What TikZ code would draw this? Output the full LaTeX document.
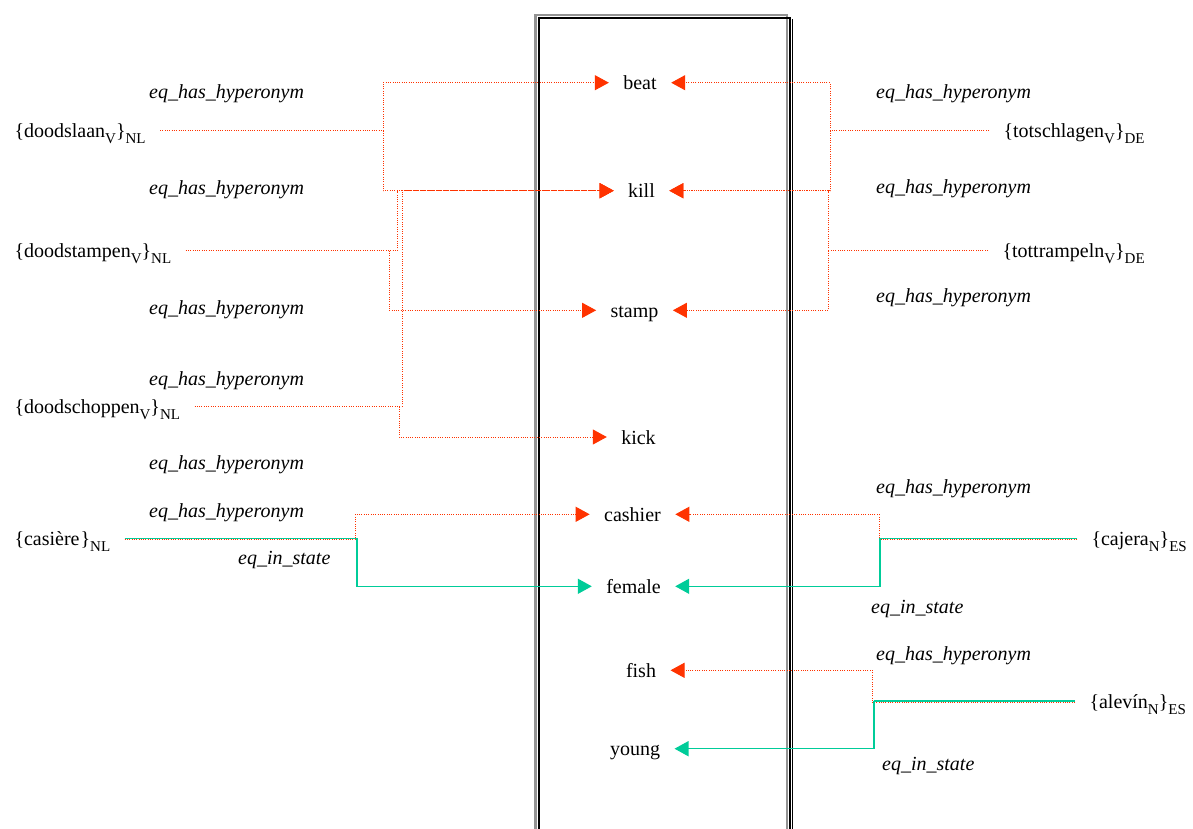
\documentclass[tikz,border=0pt]{standalone}
\usepackage{fontspec}
\setmainfont{Liberation Serif}
\usetikzlibrary{arrows.meta}
\definecolor{hypred}{RGB}{255,51,0}
\definecolor{stgreen}{RGB}{0,204,153}
\newcommand{\lsub}[1]{\raisebox{-6pt}{\fontsize{15}{15}\selectfont #1}}
\begin{document}
\begin{tikzpicture}[x=1pt,y=-1pt,
  every node/.style={font=\fontsize{20}{24}\selectfont},
  termbox/.style={inner xsep=14.5pt, inner ysep=0pt, text height=14pt, text depth=0pt, outer sep=0pt},
  synset/.style={termbox, anchor=west},
  rel/.style={inner sep=0pt, anchor=base west, font=\fontsize{20}{24}\selectfont\itshape},
  hyp/.style={color=hypred, line width=1pt, dash pattern=on 1pt off 1.3pt},
  hypa/.style={hyp, -{Triangle[length=14pt,width=15pt]}},
  ste/.style={color=stgreen, line width=1.5pt},
  stea/.style={ste, -{Triangle[length=14pt,width=15pt]}}
]
\useasboundingbox (0,0) rectangle (1193,828);

% central frame
\draw[gray!85, line width=2.4pt] (535.5,835) -- (535.5,15) -- (787,15) -- (787,835);
\draw[black, line width=1.5pt] (538.8,835) -- (538.8,18) -- (789.8,18) -- (789.8,835);
\draw[black, line width=1pt] (792,835) -- (792,19);

% target concepts
\node[termbox] (beat) at (640,82.7) {beat};
\node[termbox] (kill) at (641.5,190.7) {kill};
\node[termbox] (stamp) at (634.5,310.3) {stamp};
\node[termbox] (kick) at (638.5,437) {kick};
\node[termbox] (cashier) at (632.5,514.3) {cashier};
\node[termbox] (female) at (633.5,586.3) {female};
\node[termbox] (fish) at (641,670.3) {fish};
\node[termbox] (young) at (635,748.7) {young};

% left synsets
\node[synset] (doodslaan) at (0,130.7) {\{doodslaan\lsub{V}\}\lsub{NL}};
\node[synset] (doodstampen) at (0,250.7) {\{doodstampen\lsub{V}\}\lsub{NL}};
\node[synset] (doodschoppen) at (0,406.7) {\{doodschoppen\lsub{V}\}\lsub{NL}};
\node[synset] (casiere) at (0,538.3) {\{casière\kern1pt\}\lsub{NL}};

% right synsets
\node[synset] (totschlagen) at (989,130.7) {\{totschlagen\lsub{V}\}\lsub{DE}};
\node[synset] (tottrampeln) at (988,250.7) {\{tottrampeln\lsub{V}\}\lsub{DE}};
\node[synset] (cajera) at (1077,538.3) {\{cajera\lsub{N}\}\lsub{ES}};
\node[synset] (alevin) at (1075,701) {\{alevín\lsub{N}\}\lsub{ES}};

% relation labels left
\node[rel] (l1) at (149,98) {eq\_has\_hyperonym};
\node[rel] (l2) at (149,194) {eq\_has\_hyperonym};
\node[rel] (l3) at (149,314) {eq\_has\_hyperonym};
\node[rel] (l4) at (149,385) {eq\_has\_hyperonym};
\node[rel] (l5) at (149,469) {eq\_has\_hyperonym};
\node[rel] (l6) at (149,517) {eq\_has\_hyperonym};
\node[rel] (l7) at (238,564) {eq\_in\_state};

% relation labels right
\node[rel] (r1) at (876,98) {eq\_has\_hyperonym};
\node[rel] (r2) at (876,193) {eq\_has\_hyperonym};
\node[rel] (r3) at (876,302) {eq\_has\_hyperonym};
\node[rel] (r4) at (876,493) {eq\_has\_hyperonym};
\node[rel] (r5) at (876,660) {eq\_has\_hyperonym};
\node[rel] (r6) at (871,613) {eq\_in\_state};
\node[rel] (r7) at (882,770) {eq\_in\_state};

% junction coordinates
\coordinate (jA) at (383,130.7);
\coordinate (jB1) at (397,250.7);
\coordinate (jB2) at (389,250.7);
\coordinate (jC1) at (402,406.7);
\coordinate (jC2) at (399,406.7);
\coordinate (jD) at (830,130.7);
\coordinate (jE) at (828,250.7);
\coordinate (jF1) at (357,538.3);
\coordinate (jF2) at (355.5,538.3);
\coordinate (jG1) at (880,538.3);
\coordinate (jG2) at (879,538.3);
\coordinate (jH1) at (874,701);
\coordinate (jH2) at (872,701);

% Dutch verbs
\draw[hyp] (doodslaan) -- (jA);
\draw[hypa] (jA) |- (beat);
\draw[hypa] (jA) |- (kill);
\draw[hyp] (doodstampen) -- (jB1);
\draw[hypa] (jB1) |- (kill);
\draw[hypa] (jB2) |- (stamp);
\draw[hyp] (doodschoppen) -- (jC1);
\draw[hypa] (jC1) |- (kill);
\draw[hypa] (jC2) |- (kick);

% German verbs
\draw[hyp] (totschlagen) -- (jD);
\draw[hypa] (jD) |- (beat);
\draw[hypa] (jD) |- (kill);
\draw[hyp] (tottrampeln) -- (jE);
\draw[hypa] (jE) |- (kill);
\draw[hypa] (jE) |- (stamp);

% nouns
\draw[hyp] ([yshift=-1pt]casiere.east) -- ([yshift=-1pt]jF2);
\draw[hypa] (jF2) |- (cashier);
\draw[ste] (casiere) -- (jF1);
\draw[stea] (jF1) |- (female);

\draw[hyp] ([yshift=-1.2pt]cajera.west) -- ([yshift=-1.2pt]jG2);
\draw[hypa] (jG2) |- (cashier);
\draw[ste] (cajera) -- (jG1);
\draw[stea] (jG1) |- (female);

\draw[hyp] ([yshift=-1.2pt]alevin.west) -- ([yshift=-1.2pt]jH2);
\draw[hypa] (jH2) |- (fish);
\draw[ste] (alevin) -- (jH1);
\draw[stea] (jH1) |- (young);
\end{tikzpicture}
\end{document}
